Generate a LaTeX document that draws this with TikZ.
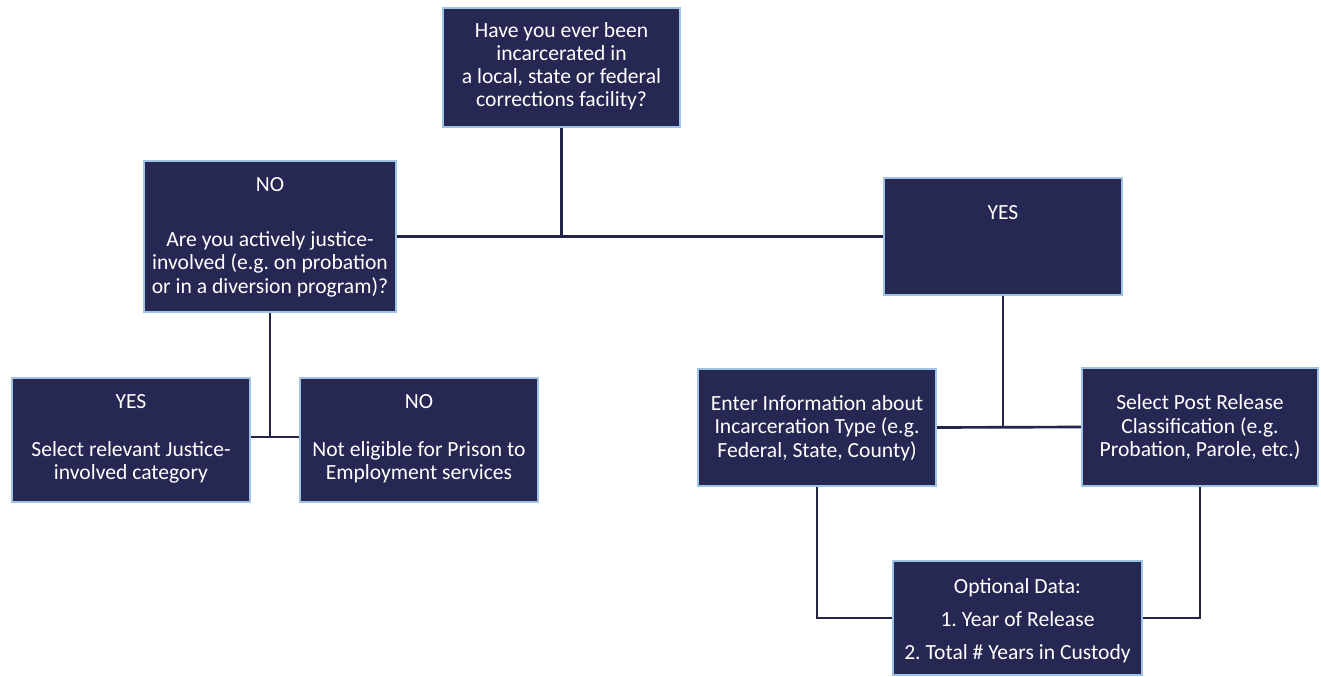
\documentclass[tikz,border=0pt]{standalone}
\usepackage{fontspec}
\setmainfont{Carlito}
\frenchspacing
\definecolor{boxfill}{HTML}{262753}
\definecolor{boxedge}{HTML}{9DC3E6}
\definecolor{wire}{HTML}{22244A}
\pgfdeclarelayer{bg}
\pgfsetlayers{bg,main}
\begin{document}
\begin{tikzpicture}[x=0.75pt,y=-0.75pt,
  box/.style={draw=boxedge, fill=boxfill, line width=1.7pt, inner sep=0pt},
  txt/.style={text=white, align=center, inner sep=0pt, font=\fontsize{16.2}{17.2}\selectfont},
  wire/.style={draw=wire, line width=2pt}]
\useasboundingbox (0,0) rectangle (1321,677);
% boxes
\node[box, minimum width=177.75pt, minimum height=89.25pt] (top) at (561.5,67.5) {};
\node[box, minimum width=189pt, minimum height=113.25pt] (no1) at (270,236.5) {};
\node[box, minimum width=178.5pt, minimum height=87.75pt] (yes1) at (1003,236.5) {};
\node[box, minimum width=178.5pt, minimum height=93pt] (yes2) at (131,440) {};
\node[box, minimum width=178.5pt, minimum height=93pt] (no2) at (419,440) {};
\node[box, minimum width=178.5pt, minimum height=87.75pt] (enter) at (817,427.5) {};
\node[box, minimum width=177pt, minimum height=88.5pt] (select) at (1200,427) {};
\node[box, minimum width=186.75pt, minimum height=85.5pt] (opt) at (1017.5,618) {};
% texts
\node[txt] (ttop) at (561.5,66.5) {Have you ever been\\incarcerated in\\a local, state or federal\\corrections facility?};
\node[txt] (tno1a) at (270,185) {NO};
\node[txt, font=\fontsize{16.2}{17.6}\selectfont] (tno1b) at (270,264) {Are you actively justice-\\involved (e.g. on probation\\or in a diversion program)?};
\node[txt] (tyes1) at (1003,213) {YES};
\node[txt] (tyes2a) at (131,402) {YES};
\node[txt] (tyes2b) at (131,462) {Select relevant Justice-\\involved category};
\node[txt] (tno2a) at (419,402) {NO};
\node[txt] (tno2b) at (419,462) {Not eligible for Prison to\\Employment services};
\node[txt, font=\fontsize{16.2}{17.6}\selectfont] (tenter) at (817,428) {Enter Information about\\Incarceration Type (e.g.\\Federal, State, County)};
\node[txt, font=\fontsize{16.2}{17.6}\selectfont] (tselect) at (1200,427) {Select Post Release\\Classification (e.g.\\Probation, Parole, etc.)};
\node[txt, font=\fontsize{16.2}{24.75}\selectfont] (topt) at (1017.5,620.5) {Optional Data:\\1. Year of Release\\2. Total \# Years in Custody};
% connectors
\coordinate (j1) at (270,437);
\begin{pgfonlayer}{bg}
\draw[wire] (top.south) -- (top.south |- no1.east);
\draw[wire] (no1.east) -- (yes1.west);
\draw[wire] (no1.south) -- (j1);
\draw[wire] (yes2.east |- j1) -- (no2.west |- j1);
\draw[wire] (yes1.south) -- (yes1.south |- enter.east);
\draw[wire] (enter.east) -- (select.west);
\draw[wire] (enter.south) |- (opt.west);
\draw[wire] (select.south) |- (opt.east);
\end{pgfonlayer}
\end{tikzpicture}
\end{document}
